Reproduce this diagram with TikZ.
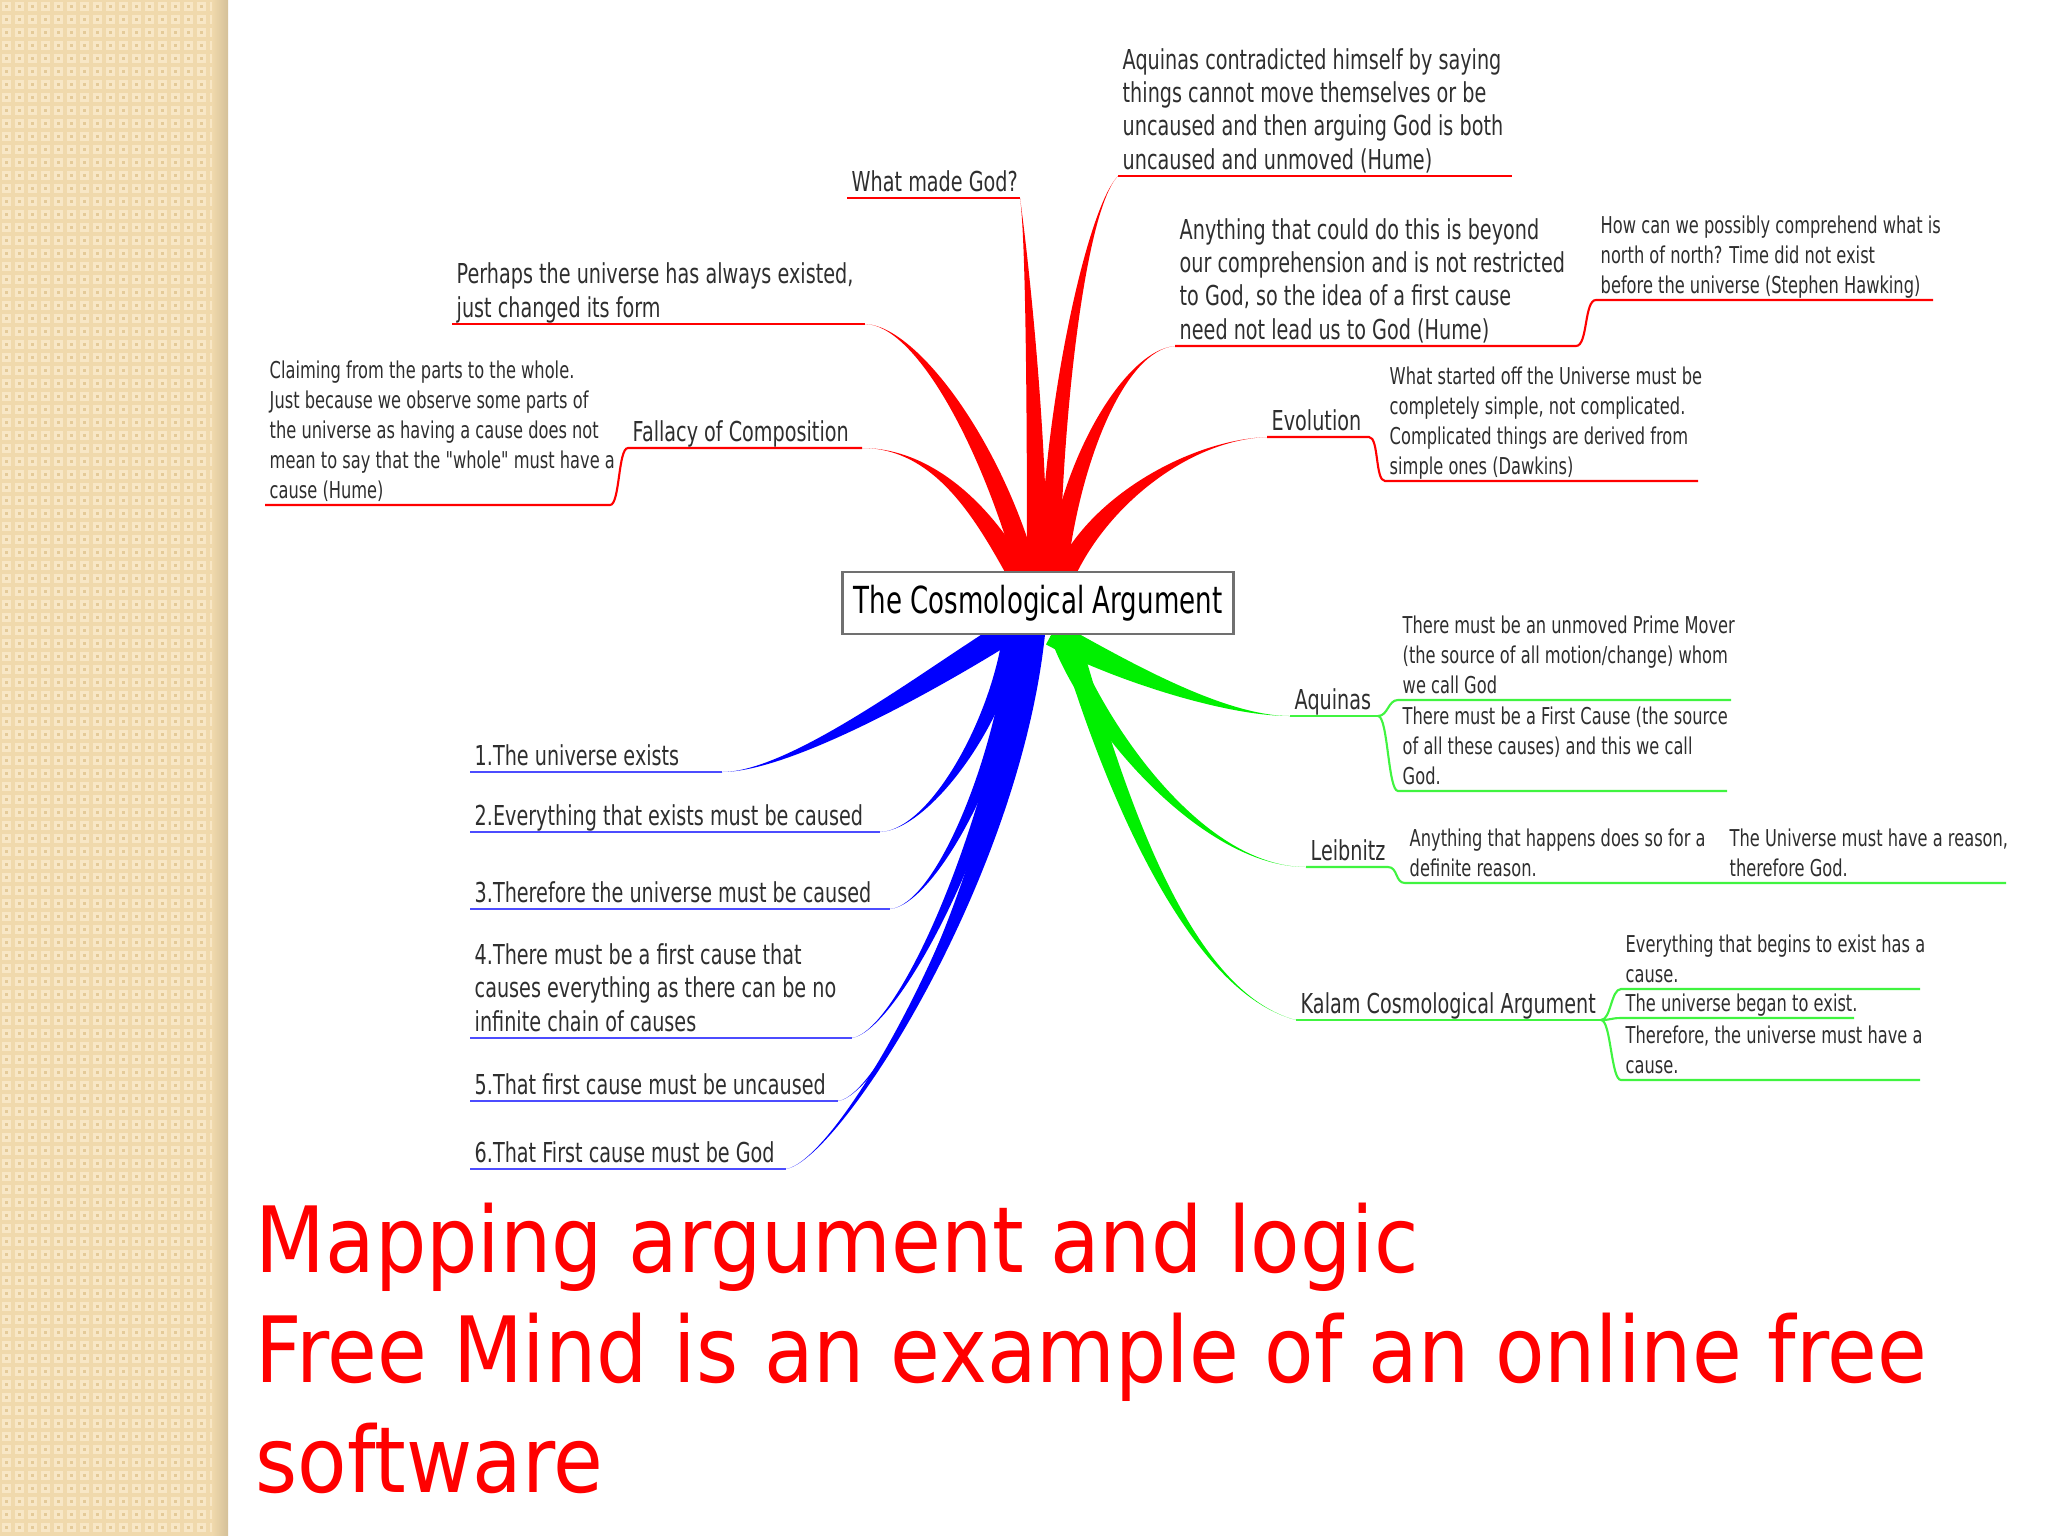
\documentclass[tikz,border=0pt]{standalone}
\usepackage{fontspec}
\setmainfont{DejaVu Sans}
\newfontfamily\mapfont{DejaVu Sans}[FakeStretch=0.70]
\newfontfamily\slidefont{DejaVu Sans}[FakeStretch=0.885]
\usetikzlibrary{calc}
\definecolor{mmred}{HTML}{FF0000}
\definecolor{mmblue}{HTML}{0000FF}
\definecolor{mmgreen}{HTML}{00F000}
\definecolor{txtgray}{HTML}{2E2E2E}
\definecolor{boxgray}{HTML}{707070}
\definecolor{strip}{HTML}{F0D9AC}
\definecolor{striplight}{HTML}{F8E7C6}
\definecolor{stripdark}{HTML}{E4CA98}
\definecolor{stripedge}{HTML}{D4C098}
\tikzset{
  topic/.style={draw=boxgray, line width=0.8pt, fill=white, minimum width=3.9cm,
    minimum height=0.62cm, inner sep=0pt, text=black,
    font=\mapfont\fontsize{10.6}{12}\selectfont},
  mmnode/.style={font=\mapfont\fontsize{7.8}{9.5}\selectfont, text=txtgray, align=left,
    inner sep=0pt, text depth=0pt, anchor=south west, xshift=0.04cm, yshift=0.06cm},
  mmnote/.style={mmnode, font=\mapfont\fontsize{6.6}{8.5}\selectfont},
  redline/.style={draw=mmred, line width=0.6pt},
  blueline/.style={draw=mmblue!70!white, line width=0.6pt},
  greenline/.style={draw=mmgreen!75!white, line width=0.6pt},
  slidetext/.style={font=\slidefont\fontsize{26}{31.3}\selectfont, text=mmred, align=left,
    inner sep=0pt, text depth=0pt, anchor=south west},
}
% tapered mind-map edge: colour, root, control near leaf, control near root, leaf, half width
\newcommand{\twig}[6]{%
  \fill[#1] (#5) .. controls (#3) and ($(#4)+(#6)$) .. ($(#2)+(#6)$)
    -- ($(#2)-(#6)$) .. controls ($(#4)-(#6)$) and (#3) .. (#5) -- cycle;}
\begin{document}
\begin{tikzpicture}[x=0.01cm, y=-0.01cm]
  \useasboundingbox (0,0) rectangle (2048,1536);
  \fill[white] (0,0) rectangle (2048,1536);
  % textured strip on the left
  \fill[strip] (0,0) rectangle (228,1536);
  \foreach \i in {0,...,16}{
    \foreach \j in {0,...,118}{
      \fill[striplight] (13*\i+2,13*\j+2) rectangle ++(9,9);
      \fill[stripdark] (13*\i+5,13*\j+5) rectangle ++(3,3);
    }
  }
  \fill[left color=strip, right color=stripedge] (212,0) rectangle (228,1536);

  % central topic
  \node[topic] (root) at (1038,603) {The Cosmological Argument};

  % underline ends
  \coordinate (god-a) at (847,198);    \coordinate (god-b) at (1020,198);
  \coordinate (hume-a) at (1118,176);  \coordinate (hume-b) at (1512,176);
  \coordinate (any-a) at (1175,346);   \coordinate (any-b) at (1576,346);
  \coordinate (hawk-a) at (1596,300);  \coordinate (hawk-b) at (1933,300);
  \coordinate (evo-a) at (1267,437);   \coordinate (evo-b) at (1369,437);
  \coordinate (daw-a) at (1385,481);   \coordinate (daw-b) at (1698,481);
  \coordinate (form-a) at (452,324);   \coordinate (form-b) at (865,324);
  \coordinate (fal-a) at (628,448);    \coordinate (fal-b) at (862,448);
  \coordinate (part-a) at (265,505);   \coordinate (part-b) at (610,505);
  \coordinate (p1-a) at (470,772);     \coordinate (p1-b) at (722,772);
  \coordinate (p2-a) at (470,832);     \coordinate (p2-b) at (880,832);
  \coordinate (p3-a) at (470,909);     \coordinate (p3-b) at (890,909);
  \coordinate (p4-a) at (470,1038);    \coordinate (p4-b) at (852,1038);
  \coordinate (p5-a) at (470,1101);    \coordinate (p5-b) at (838,1101);
  \coordinate (p6-a) at (470,1169);    \coordinate (p6-b) at (786,1169);
  \coordinate (aq-a) at (1290,716);    \coordinate (aq-b) at (1378,716);
  \coordinate (mover-a) at (1398,700); \coordinate (mover-b) at (1731,700);
  \coordinate (cause-a) at (1398,791); \coordinate (cause-b) at (1727,791);
  \coordinate (leib-a) at (1306,867);  \coordinate (leib-b) at (1388,867);
  \coordinate (why-a) at (1405,883);   \coordinate (why-b) at (1725,883);
  \coordinate (why2-b) at (2006,883);
  \coordinate (kal-a) at (1296,1020);  \coordinate (kal-b) at (1601,1020);
  \coordinate (k1-a) at (1621,989);    \coordinate (k1-b) at (1920,989);
  \coordinate (k2-a) at (1621,1018);   \coordinate (k2-b) at (1854,1018);
  \coordinate (k3-a) at (1621,1080);   \coordinate (k3-b) at (1920,1080);

  % roots on the box
  \coordinate (r-fal) at ($(root.north)+(-21,2)$);
  \coordinate (r-form) at ($(root.north)+(-11,2)$);
  \coordinate (r-god) at ($(root.north)+(-1,2)$);
  \coordinate (r-hume) at ($(root.north)+(12,2)$);
  \coordinate (r-any) at ($(root.north)+(19,2)$);
  \coordinate (r-evo) at ($(root.north)+(28,2)$);
  \foreach \n/\dx in {1/-33,2/-26,3/-20,4/-14,5/-8,6/-2}
    \coordinate (r-p\n) at ($(root.south)+(\dx,-2)$);
  \coordinate (r-aq) at ($(root.south)+(14,-2)$);
  \coordinate (r-leib) at ($(root.south)+(22,-2)$);
  \coordinate (r-kal) at ($(root.south)+(30,-2)$);

  % red edges
  \twig{mmred}{r-fal}{935,448}{985,515}{fal-b}{9,-5}
  \twig{mmred}{r-form}{915,325}{990,440}{form-b}{10,-3}
  \twig{mmred}{r-god}{1026,240}{1037,420}{god-b}{10,0}
  \twig{mmred}{r-hume}{1085,210}{1052,420}{hume-a}{10,0}
  \twig{mmred}{r-any}{1125,350}{1070,460}{any-a}{10,1}
  \twig{mmred}{r-evo}{1190,440}{1100,500}{evo-a}{9,4}
  % blue edges
  \twig{mmblue}{r-p1}{790,772}{930,680}{p1-b}{6,10}
  \twig{mmblue}{r-p2}{930,830}{1000,720}{p2-b}{9,1}
  \twig{mmblue}{r-p3}{935,905}{1005,760}{p3-b}{9,1}
  \twig{mmblue}{r-p4}{900,1030}{1000,820}{p4-b}{9,1}
  \twig{mmblue}{r-p5}{885,1095}{1005,850}{p5-b}{9,1}
  \twig{mmblue}{r-p6}{840,1160}{1010,880}{p6-b}{9,1}
  % green edges
  \twig{mmgreen}{r-aq}{1220,716}{1110,665}{aq-a}{6,-11}
  \twig{mmgreen}{r-leib}{1200,867}{1090,720}{leib-a}{10,-3}
  \twig{mmgreen}{r-kal}{1180,990}{1105,760}{kal-a}{10,-2}
  \node[topic] at (root) {The Cosmological Argument};

  % red branch
  \draw[redline] (god-a) -- (god-b);
  \node[mmnode] (god) at (god-a) {What made God?};
  \draw[redline] (hume-a) -- (hume-b);
  \node[mmnode] (hume) at (hume-a) {Aquinas contradicted himself by saying\\things cannot move themselves or be\\uncaused and then arguing God is both\\uncaused and unmoved (Hume)};
  \draw[redline] (any-a) -- (any-b) .. controls +(12,0) and +(-12,0) .. (hawk-a) -- (hawk-b);
  \node[mmnode] (any) at (any-a) {Anything that could do this is beyond\\our comprehension and is not restricted\\to God, so the idea of a first cause\\need not lead us to God (Hume)};
  \node[mmnote] (hawk) at (hawk-a) {How can we possibly comprehend what is\\north of north? Time did not exist\\before the universe (Stephen Hawking)};
  \draw[redline] (evo-a) -- (evo-b) .. controls +(10,0) and +(-10,0) .. (daw-a) -- (daw-b);
  \node[mmnode] (evo) at (evo-a) {Evolution};
  \node[mmnote] (daw) at (daw-a) {What started off the Universe must be\\completely simple, not complicated.\\Complicated things are derived from\\simple ones (Dawkins)};
  \draw[redline] (form-a) -- (form-b);
  \node[mmnode] (form) at (form-a) {Perhaps the universe has always existed,\\just changed its form};
  \draw[redline] (fal-b) -- (fal-a) .. controls +(-10,0) and +(10,0) .. (part-b) -- (part-a);
  \node[mmnode] (fal) at (fal-a) {Fallacy of Composition};
  \node[mmnote] (part) at (part-a) {Claiming from the parts to the whole.\\Just because we observe some parts of\\the universe as having a cause does not\\mean to say that the "whole" must have a\\cause (Hume)};

  % blue branch
  \foreach \n in {1,...,6} \draw[blueline] (p\n-a) -- (p\n-b);
  \node[mmnode] (p1) at (p1-a) {1.The universe exists};
  \node[mmnode] (p2) at (p2-a) {2.Everything that exists must be caused};
  \node[mmnode] (p3) at (p3-a) {3.Therefore the universe must be caused};
  \node[mmnode] (p4) at (p4-a) {4.There must be a first cause that\\causes everything as there can be no\\infinite chain of causes};
  \node[mmnode] (p5) at (p5-a) {5.That first cause must be uncaused};
  \node[mmnode] (p6) at (p6-a) {6.That First cause must be God};

  % green branch
  \draw[greenline] (aq-a) -- (aq-b);
  \draw[greenline] (aq-b) .. controls +(10,0) and +(-10,0) .. (mover-a) -- (mover-b);
  \draw[greenline] (aq-b) .. controls +(10,0) and +(-10,0) .. (cause-a) -- (cause-b);
  \node[mmnode] (aq) at (aq-a) {Aquinas};
  \node[mmnote] (mover) at (mover-a) {There must be an unmoved Prime Mover\\(the source of all motion/change) whom\\we call God};
  \node[mmnote] (cause) at (cause-a) {There must be a First Cause (the source\\of all these causes) and this we call\\God.};
  \draw[greenline] (leib-a) -- (leib-b) .. controls +(10,0) and +(-10,0) .. (why-a) -- (why-b) -- (why2-b);
  \node[mmnode] (leib) at (leib-a) {Leibnitz};
  \node[mmnote] (why) at (why-a) {Anything that happens does so for a\\definite reason.};
  \node[mmnote] (why2) at (why-b) {The Universe must have a reason,\\therefore God.};
  \draw[greenline] (kal-a) -- (kal-b);
  \foreach \k in {k1,k2,k3}
    \draw[greenline] (kal-b) .. controls +(10,0) and +(-10,0) .. (\k-a) -- (\k-b);
  \node[mmnode] (kal) at (kal-a) {Kalam Cosmological Argument};
  \node[mmnote] (k1) at (k1-a) {Everything that begins to exist has a\\cause.};
  \node[mmnote] (k2) at (k2-a) {The universe began to exist.};
  \node[mmnote] (k3) at (k3-a) {Therefore, the universe must have a\\cause.};

  % slide caption
  \node[slidetext] (caption) at (255,1493) {Mapping argument and logic\\Free Mind is an example of an online free\\software};
\end{tikzpicture}
\end{document}
